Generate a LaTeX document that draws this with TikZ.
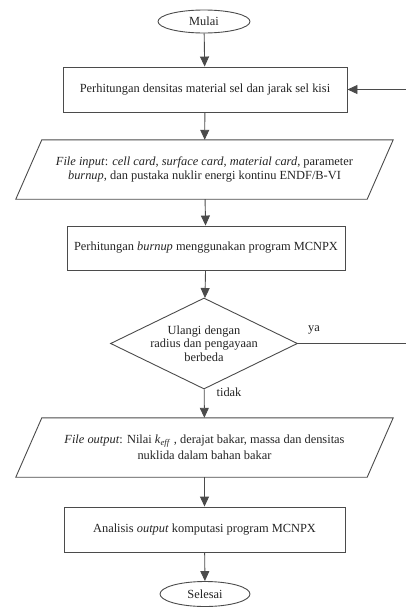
\documentclass[tikz,border=0pt]{standalone}
\usepackage{fontspec}
\setmainfont{Liberation Serif}
\usetikzlibrary{arrows.meta,shapes.geometric,calc}
\definecolor{linec}{RGB}{75,75,75}
\definecolor{txtc}{RGB}{35,35,35}
\begin{document}
\begin{tikzpicture}[x=1pt,y=-1pt,
  every node/.style={font=\fontsize{12.4}{13.5}\selectfont, text=txtc},
  term/.style={ellipse, draw=linec, line width=0.9pt, inner sep=0pt},
  procbox/.style={rectangle, draw=linec, line width=0.9pt, inner sep=0pt},
  iobox/.style={rectangle, inner sep=0pt, minimum width=377pt, minimum height=59pt, align=center},
  decbox/.style={diamond, draw=linec, line width=0.9pt, inner sep=0pt, minimum width=187pt, minimum height=91pt, aspect=2.05, align=center},
  flow/.style={draw=linec, line width=0.9pt, -{Triangle[length=10pt,width=9pt]}},
  lbl/.style={inner sep=0pt}]
\useasboundingbox (0,0) rectangle (406,608);
\node[term, minimum width=92pt, minimum height=23pt] (start) at (204,21.5) {Mulai};
\node[procbox, minimum width=284pt, minimum height=45pt] (b1) at (205,89.5) {Perhitungan densitas material sel dan jarak sel kisi};
\node[iobox] (p1) at (204.5,169.5) {\textit{File input}: \textit{cell card}, \textit{surface card}, \textit{material card}, parameter\\ \textit{burnup}, dan pustaka nuklir energi kontinu ENDF/B-VI};
\draw[linec, line width=0.9pt] ($(p1.north west)+(26,0)$) -- (p1.north east) -- ($(p1.south east)+(-26,0)$) -- (p1.south west) -- cycle;
\node[procbox, minimum width=278pt, minimum height=44pt] (b2) at (206,248) {Perhitungan \textit{burnup} menggunakan program MCNPX};
\node[decbox] (d) at (204,343.5) {Ulangi dengan\\ radius dan pengayaan\\ berbeda};
\node[iobox, font=\fontsize{12.4}{16}\selectfont] (p2) at (204.5,447.5) {\textit{File output}: Nilai \textit{k}\textsubscript{\textit{eff}} , derajat bakar, massa dan densitas\\ nuklida dalam bahan bakar};
\draw[linec, line width=0.9pt] ($(p2.north west)+(26,0)$) -- (p2.north east) -- ($(p2.south east)+(-26,0)$) -- (p2.south west) -- cycle;
\node[procbox, minimum width=281pt, minimum height=45pt] (b3) at (204.5,529.5) {Analisis \textit{output} komputasi program MCNPX};
\node[term, minimum width=90pt, minimum height=25pt] (end) at (205,594) {Selesai};
\coordinate (fb) at (409,0);
\draw[flow] (start) -- (b1);
\draw[flow] (b1) -- (p1);
\draw[flow] (p1) -- (b2);
\draw[flow] (b2) -- (d);
\draw[flow] (d) -- (p2);
\draw[flow] (p2) -- (b3);
\draw[flow] (b3) -- (end);
\draw[flow] (d.east) -- (d.east -| fb) |- (b1.east);
\node[lbl] (ya) at (314,330) {ya};
\node[lbl] (tidak) at (229,392) {tidak};
\end{tikzpicture}
\end{document}
